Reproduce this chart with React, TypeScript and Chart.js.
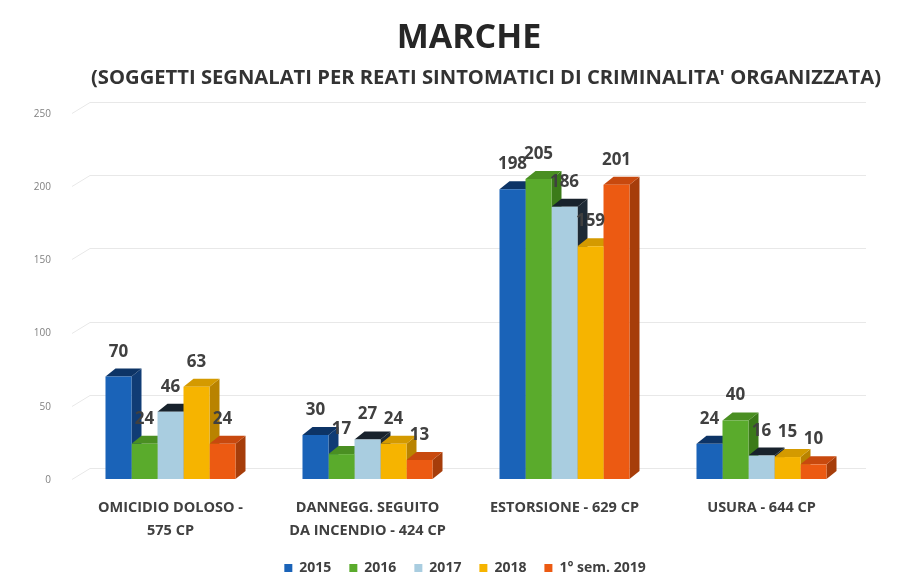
import React, { useEffect, useRef } from 'react';
import { Chart, registerables } from 'chart.js';

Chart.register(...registerables);

const categories: string[][] = [
  ['OMICIDIO DOLOSO -', '575 CP'],
  ['DANNEGG. SEGUITO', 'DA INCENDIO - 424 CP'],
  ['ESTORSIONE - 629 CP'],
  ['USURA - 644 CP'],
];
const seriesLabels = ['2015', '2016', '2017', '2018', '1° sem. 2019'];
const v2015 = [70, 30, 198, 24];
const v2016 = [24, 17, 205, 40];
const v2017 = [46, 27, 186, 16];
const v2018 = [63, 24, 159, 15];
const v2019 = [24, 13, 201, 10];
const seriesValues = [v2015, v2016, v2017, v2018, v2019];
const yTicks = [0, 50, 100, 150, 200, 250];

const titleText = 'MARCHE';
const subtitleText = "(SOGGETTI SEGNALATI PER REATI SINTOMATICI DI CRIMINALITA' ORGANIZZATA)";

const frontColors = ['#1a63b8', '#5aab2c', '#a9cde0', '#f6b400', '#ec5a12'];
const sideColors = ['#103c75', '#3b7a19', '#1e2a35', '#b98300', '#a63d0a'];
const topColors = ['#0d3466', '#4a8f22', '#18222c', '#d49a00', '#c8490e'];

const FONT = "'Open Sans', 'DejaVu Sans', sans-serif";
const DX = 10;
const DY = 8;
const WDX = 18;
const WDY = 11;

const wallGrid = {
  id: 'wallGrid',
  beforeDatasetsDraw(chart: any) {
    const ctx = chart.ctx;
    const ys = chart.scales.y;
    const area = chart.chartArea;
    ctx.save();
    ctx.strokeStyle = '#e8e8e8';
    ctx.lineWidth = 1;
    ctx.fillStyle = '#808080';
    ctx.font = `10px ${FONT}`;
    ctx.textAlign = 'right';
    ctx.textBaseline = 'middle';
    yTicks.forEach((v) => {
      const yy = ys.getPixelForValue(v);
      const y = Math.round(yy) + 0.5;
      ctx.beginPath();
      ctx.moveTo(area.left, y);
      ctx.lineTo(area.left + WDX, y - WDY);
      ctx.lineTo(area.right + 6, y - WDY);
      ctx.stroke();
      ctx.fillText(String(v), area.left - 21, yy + 1);
    });
    ctx.restore();
  },
};

const bars3d = {
  id: 'bars3d',
  beforeDatasetsDraw(chart: any) {
    const ctx = chart.ctx;
    const n = chart.data.labels.length;
    ctx.save();
    for (let i = 0; i < n; i++) {
      chart.data.datasets.forEach((_ds: any, di: number) => {
        const meta = chart.getDatasetMeta(di);
        if (!chart.isDatasetVisible(di)) return;
        const el = meta.data[i];
        if (!el) return;
        const { x, y, base, width } = el.getProps(['x', 'y', 'base', 'width'], true);
        const l = x - width / 2;
        const r = x + width / 2;
        ctx.fillStyle = sideColors[di];
        ctx.beginPath();
        ctx.moveTo(r, base);
        ctx.lineTo(r + DX, base - DY);
        ctx.lineTo(r + DX, y - DY);
        ctx.lineTo(r, y);
        ctx.closePath();
        ctx.fill();
        ctx.fillStyle = topColors[di];
        ctx.beginPath();
        ctx.moveTo(l, y);
        ctx.lineTo(l + DX, y - DY);
        ctx.lineTo(r + DX, y - DY);
        ctx.lineTo(r, y);
        ctx.closePath();
        ctx.fill();
      });
    }
    ctx.restore();
  },
  afterDatasetsDraw(chart: any) {
    const ctx = chart.ctx;
    ctx.save();
    ctx.fillStyle = '#404040';
    ctx.font = `bold 17px ${FONT}`;
    ctx.textAlign = 'center';
    ctx.textBaseline = 'alphabetic';
    chart.data.datasets.forEach((ds: any, di: number) => {
      const meta = chart.getDatasetMeta(di);
      if (!chart.isDatasetVisible(di)) return;
      meta.data.forEach((el: any, i: number) => {
        const { x, y } = el.getProps(['x', 'y'], true);
        ctx.fillText(String(ds.data[i]), x, y - DY - 12);
      });
    });
    ctx.restore();
  },
};

const titles = {
  id: 'titles',
  afterDraw(chart: any) {
    const ctx = chart.ctx;
    ctx.save();
    ctx.textAlign = 'center';
    ctx.textBaseline = 'middle';
    ctx.fillStyle = '#262626';
    ctx.font = `bold 34px ${FONT}`;
    ctx.fillText(titleText, 469, 38);
    ctx.fillStyle = '#333333';
    ctx.font = `bold 20.2px ${FONT}`;
    ctx.fillText(subtitleText, 486, 78);
    ctx.restore();
  },
};

export default function App() {
  const ref = useRef<HTMLCanvasElement>(null);
  useEffect(() => {
    if (!ref.current) return;
    const chart = new Chart(ref.current, {
      type: 'bar',
      data: {
        labels: categories,
        datasets: seriesLabels.map((lab, i) => ({
          label: lab,
          data: seriesValues[i],
          backgroundColor: frontColors[i],
          borderWidth: 0,
          categoryPercentage: 0.66,
          barPercentage: 1.0,
        })),
      },
      options: {
        responsive: false,
        animation: false,
        layout: { padding: { left: 70, right: 39, top: 113, bottom: 2 } },
        scales: {
          x: {
            grid: { display: false, drawTicks: false },
            border: { display: false },
            ticks: {
              color: '#404040',
              font: { family: FONT, size: 14.5, weight: 'bold', lineHeight: 1.55 },
              padding: 18,
              maxRotation: 0,
              autoSkip: false,
            },
            afterFit: (s: any) => {
              s.height = 64;
            },
          },
          y: {
            min: 0,
            max: 250,
            grid: { display: false, drawTicks: false },
            border: { display: false },
            ticks: { stepSize: 50, display: false },
            afterFit: (s: any) => {
              s.width = 2;
            },
          },
        },
        plugins: {
          legend: {
            position: 'bottom',
            labels: {
              boxWidth: 8,
              boxHeight: 8,
              padding: 18,
              color: '#404040',
              font: { family: FONT, size: 14, weight: 'bold' },
            },
          },
          title: { display: false },
          tooltip: { enabled: false },
        },
      },
      plugins: [wallGrid, bars3d, titles],
    });
    return () => chart.destroy();
  }, []);
  return (
    <div style={{ position: 'fixed', left: 0, top: 0, width: 899, height: 587, background: '#fff' }}>
      <canvas ref={ref} width={899} height={587} />
    </div>
  );
}
